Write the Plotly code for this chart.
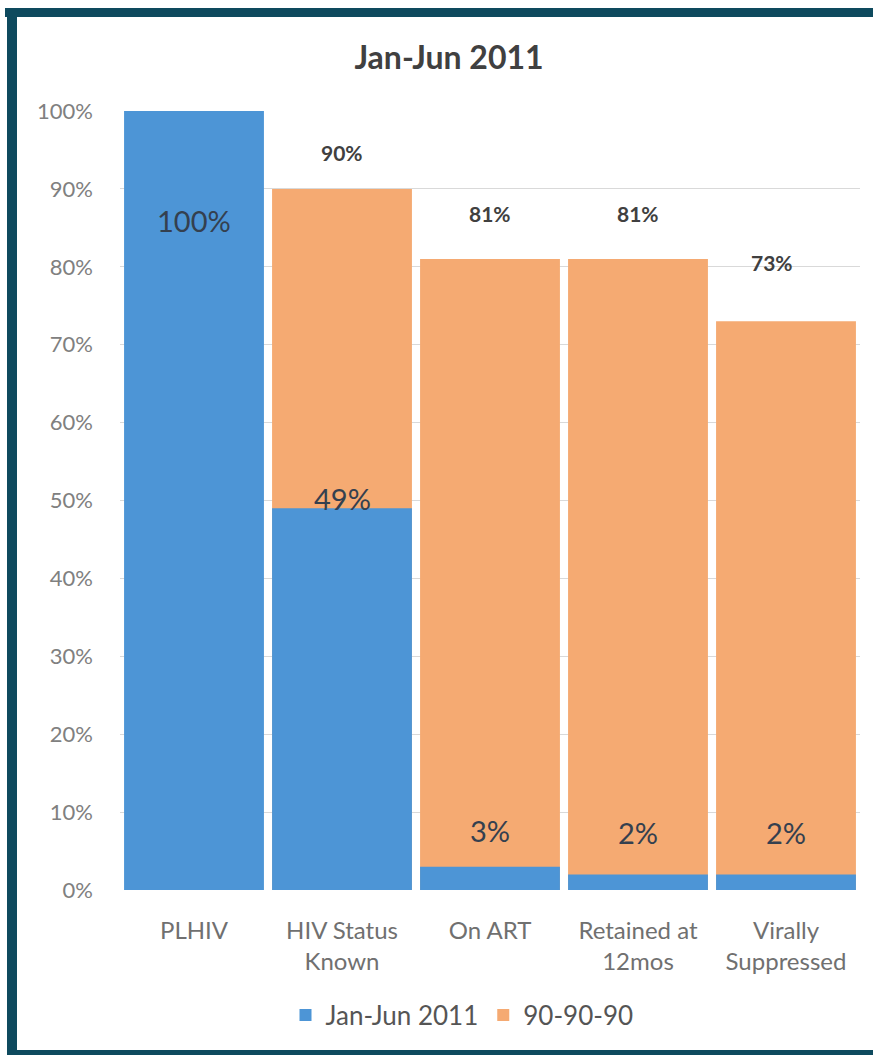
import plotly.graph_objects as go

# Care cascade categories and values (percent of PLHIV)
categories = ["PLHIV", "HIV Status<br>Known", "On ART", "Retained at<br>12mos", "Virally<br>Suppressed"]
actual_2011 = [100, 49, 3, 2, 2]
target_909090 = [None, 90, 81, 81, 73]

# label placement (data units) for the value labels
actual_label_y = [86, 50.2, 7.7, 7.4, 7.4]
target_label_y = [None, 94.7, 86.9, 86.9, 80.5]
target_label_xshift = [0, 0, 0, 0, -14]

BLUE = "#4D95D6"
ORANGE = "#F5AA72"
FONT = "Lato"

W, H = 873, 1055
ML, MR, MT, MB = 120, 13, 111, 165
PW, PH = W - ML - MR, H - MT - MB


def px_x(px):
    return (px - ML) / PW


def px_y(py):
    return (H - MB - py) / PH


fig = go.Figure()

# target bars sit behind, actual bars overlay them
fig.add_trace(go.Bar(
    x=categories, y=target_909090, name="90-90-90",
    marker=dict(color=ORANGE, line=dict(width=0)),
))
fig.add_trace(go.Bar(
    x=categories, y=actual_2011, name="Jan-Jun 2011",
    marker=dict(color=BLUE, line=dict(width=0)),
))

annotations = []
for i, (cat, v) in enumerate(zip(categories, actual_2011)):
    annotations.append(dict(
        x=cat, y=actual_label_y[i], xref="x", yref="y",
        text=f"{v}%", showarrow=False,
        font=dict(family=FONT, size=29, color="#34404F"),
    ))
for i, (cat, v) in enumerate(zip(categories, target_909090)):
    if v is None:
        continue
    annotations.append(dict(
        x=cat, y=target_label_y[i], xref="x", yref="y",
        text=f"<b>{v}%</b>", showarrow=False, xshift=target_label_xshift[i],
        font=dict(family=FONT, size=21, color="#404040"),
    ))

# dark teal frame around the chart
FRAME = "#0E4A5E"
shapes = [
    dict(type="rect", xref="paper", yref="paper", layer="below",
         x0=px_x(5), x1=px_x(W + 5), y0=px_y(17), y1=px_y(8),
         fillcolor=FRAME, line=dict(width=0)),
    dict(type="rect", xref="paper", yref="paper", layer="below",
         x0=px_x(7), x1=px_x(17), y0=px_y(H + 5), y1=px_y(8),
         fillcolor=FRAME, line=dict(width=0)),
    dict(type="rect", xref="paper", yref="paper", layer="below",
         x0=px_x(7), x1=px_x(W + 5), y0=px_y(H + 5), y1=px_y(1050),
         fillcolor=FRAME, line=dict(width=0)),
]

fig.update_layout(
    width=W, height=H,
    margin=dict(l=ML, r=MR, t=MT, b=MB, pad=0),
    paper_bgcolor="white", plot_bgcolor="white",
    barmode="overlay", bargap=0.055,
    title=dict(text="<b>Jan-Jun 2011</b>", x=449 / W, xanchor="center",
               y=1 - 58 / H, yanchor="middle",
               font=dict(family=FONT, size=32, color="#404040")),
    font=dict(family=FONT),
    showlegend=True,
    legend=dict(orientation="h", x=px_x(462), xanchor="center",
                y=px_y(1015), yanchor="middle", traceorder="reversed",
                font=dict(family=FONT, size=26, color="#555555"),
                itemwidth=30),
    annotations=annotations,
    shapes=shapes,
)

fig.update_yaxes(
    range=[0, 100], dtick=10, ticksuffix="%",
    showgrid=True, gridcolor="#D9D9D9", gridwidth=1,
    zeroline=False, showline=False,
    tickfont=dict(family=FONT, size=22, color="#808080"),
    ticklabelstandoff=26,
)
fig.update_xaxes(
    showline=False, showgrid=False, zeroline=False,
    tickfont=dict(family=FONT, size=24, color="#707070"),
    ticklabelstandoff=24,
)

fig.write_html("out.html")
